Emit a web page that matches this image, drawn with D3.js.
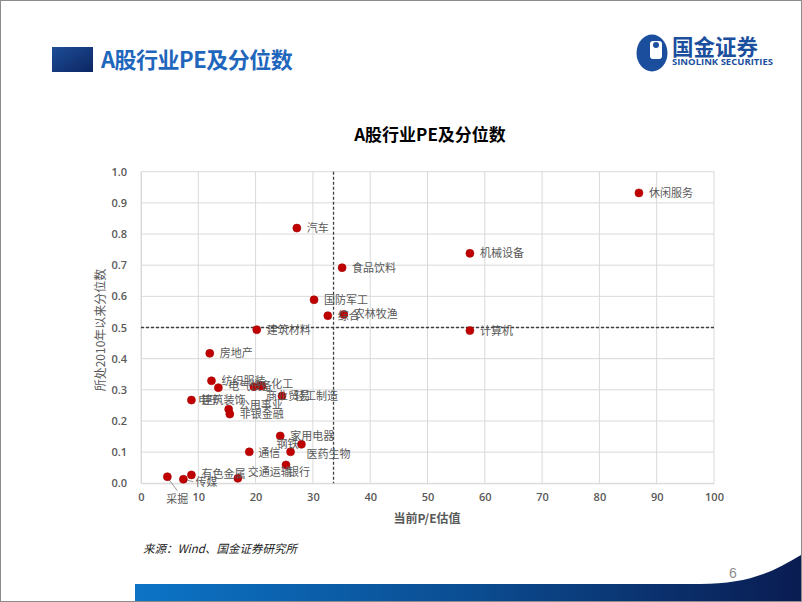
<!DOCTYPE html>
<html><head><meta charset="utf-8">
<script src="https://cdn.jsdelivr.net/npm/d3@7"></script>
<style>
html,body{margin:0;padding:0;background:#fff;}
svg{display:block;}
</style></head>
<body>
<svg id="c" width="802" height="602"></svg>
<script>
// ---- data ----
const industries = ["休闲服务","机械设备","计算机","汽车","食品饮料","国防军工","综合","农林牧渔","建筑材料","房地产","纺织服装","电气设备","电子","化工","商业贸易","轻工制造","建筑装饰","公用事业","非银金融","家用电器","钢铁","通信","医药生物","银行","交通运输","有色金属","传媒","采掘"];
const peValues    = [86.9, 57.4, 57.4, 27.2, 35.1, 30.2, 32.6, 35.4, 20.2, 12.0, 12.3, 13.5, 19.7, 20.8, 21.1, 24.6, 8.8, 15.3, 15.5, 24.3, 28.0, 18.9, 26.1, 25.3, 16.9, 8.8, 7.4, 4.6];
const percentiles = [0.932, 0.738, 0.490, 0.819, 0.692, 0.589, 0.538, 0.542, 0.493, 0.417, 0.329, 0.307, 0.310, 0.315, 0.312, 0.280, 0.267, 0.238, 0.222, 0.152, 0.125, 0.101, 0.101, 0.059, 0.016, 0.027, 0.013, 0.021];
const xTicks = [0,10,20,30,40,50,60,70,80,90,100];
const yTicks = [0,0.1,0.2,0.3,0.4,0.5,0.6,0.7,0.8,0.9,1.0];
const refPE = 33.6;
const refPct = 0.5;

// label placement tweaks (layout only)
const labelPos = {
  "电气设备":[10,-2], "化工":[11,-1], "商业贸易":[4,10], "轻工制造":[12,0],
  "电子":[-56,13], "公用事业":[10,-4], "非银金融":[10,0], "钢铁":[-3,0,"end"],
  "通信":[9,1], "医药生物":[16,2], "银行":[2,7], "交通运输":[10,-6], "有色金属":[10,-1],
  "传媒":[12,3], "采掘":[10,22,"middle"]
};

const svg = d3.select("#c");
const CJK = "'Noto Sans CJK SC','Noto Sans',sans-serif";

// frame
svg.append("rect").attr("x",0.5).attr("y",0.5).attr("width",801).attr("height",601)
  .attr("fill","#fff").attr("stroke","#8c8c8c");

const defs = svg.append("defs");
const g1 = defs.append("linearGradient").attr("id","sq").attr("x1","0").attr("x2","1").attr("y1","0").attr("y2","1");
g1.append("stop").attr("offset","0").attr("stop-color","#1d4d98");
g1.append("stop").attr("offset","1").attr("stop-color","#0c2662");
const g2 = defs.append("linearGradient").attr("id","bar").attr("x1","0").attr("x2","1");
g2.append("stop").attr("offset","0").attr("stop-color","#0c74c6");
g2.append("stop").attr("offset","0.5").attr("stop-color","#0b4d92");
g2.append("stop").attr("offset","1").attr("stop-color","#0a1c52");

// header
svg.append("rect").attr("x",52).attr("y",47).attr("width",41).attr("height",25).attr("fill","url(#sq)");
svg.append("text").attr("x",101).attr("y",68).attr("font-family",CJK).attr("font-weight","bold")
  .attr("font-size",22).attr("fill","#1f66bd").attr("letter-spacing","-0.5").text("A股行业PE及分位数");

// logo
const logo = svg.append("g");
logo.append("ellipse").attr("cx",652).attr("cy",53).attr("rx",15.5).attr("ry",18.5).attr("fill","#1b4f9e");
logo.append("rect").attr("x",650).attr("y",41).attr("width",12).attr("height",18).attr("rx",3).attr("fill","#fff");
logo.append("circle").attr("cx",656).attr("cy",45).attr("r",3).attr("fill","#1b4f9e");
logo.append("text").attr("x",672).attr("y",55).attr("font-family",CJK).attr("font-weight","bold")
  .attr("font-size",21.5).attr("fill","#1b4f9e").text("国金证券");
logo.append("text").attr("x",672).attr("y",65).attr("textLength",101).attr("lengthAdjust","spacingAndGlyphs")
  .attr("font-family","'Open Sans',sans-serif").attr("font-weight","bold")
  .attr("font-size",9).attr("fill","#1b4f9e").text("SINOLINK SECURITIES");

// chart title
svg.append("text").attr("x",430).attr("y",141).attr("text-anchor","middle").attr("font-family",CJK)
  .attr("font-weight","bold").attr("font-size",17).attr("fill","#000").text("A股行业PE及分位数");

// scales
const x = d3.scaleLinear().domain([0,100]).range([141,714]);
const y = d3.scaleLinear().domain([0,1]).range([483.3,171.7]);

// grid
const grid = svg.append("g");
grid.selectAll(".vx").data(xTicks).join("line")
  .attr("x1",d=>x(d)).attr("x2",d=>x(d)).attr("y1",y(0)).attr("y2",y(1))
  .attr("stroke","#d9d9d9").attr("stroke-width",1);
grid.selectAll(".hy").data(yTicks).join("line")
  .attr("x1",x(0)).attr("x2",x(100)).attr("y1",d=>y(d)).attr("y2",d=>y(d))
  .attr("stroke","#d9d9d9").attr("stroke-width",1);

// axes
const tickFont = "'Open Sans',sans-serif";
const xAxis = svg.append("g").attr("transform",`translate(0,${y(0)})`)
  .call(d3.axisBottom(x).tickValues(xTicks).tickSize(0).tickPadding(10).tickFormat(d3.format("d")));
const yAxis = svg.append("g").attr("transform",`translate(${x(0)},0)`)
  .call(d3.axisLeft(y).tickValues(yTicks).tickSize(0).tickPadding(14).tickFormat(d3.format(".1f")));
[xAxis,yAxis].forEach(a=>{
  a.select(".domain").attr("stroke","#d9d9d9");
  a.selectAll("text").attr("font-family",tickFont).attr("font-size",11).attr("font-weight",600).attr("fill","#595959");
});

// axis titles
svg.append("text").attr("x",427).attr("y",523).attr("text-anchor","middle").attr("font-family",CJK)
  .attr("font-weight","bold").attr("font-size",12).attr("fill","#595959").text("当前P/E估值");
svg.append("text").attr("transform","translate(105,330) rotate(-90)").attr("text-anchor","middle")
  .attr("font-family",CJK).attr("font-size",12).attr("fill","#595959").text("所处2010年以来分位数");

// reference lines
svg.append("line").attr("x1",x(0)).attr("x2",x(100)).attr("y1",y(refPct)).attr("y2",y(refPct))
  .attr("stroke","#404040").attr("stroke-width",1.3).attr("stroke-dasharray","3,2");
svg.append("line").attr("x1",x(refPE)).attr("x2",x(refPE)).attr("y1",y(1)).attr("y2",y(0))
  .attr("stroke","#404040").attr("stroke-width",1.3).attr("stroke-dasharray","3,2");

const pts = industries.map((n,i)=>({name:n, pe:peValues[i], pct:percentiles[i]}));

// leader lines
const leaders = svg.append("g");
pts.forEach(p=>{
  const px=x(p.pe), py=y(p.pct);
  if(p.name==="传媒"){
    leaders.append("line").attr("x1",px+4).attr("y1",py+1).attr("x2",px+10).attr("y2",py+2.5).attr("stroke","#7f7f7f").attr("stroke-width",0.8);
  }
  if(p.name==="采掘"){
    leaders.append("line").attr("x1",px+1).attr("y1",py+2).attr("x2",px+10).attr("y2",py+14).attr("stroke","#7f7f7f").attr("stroke-width",0.8);
  }
});

// points
svg.append("g").selectAll("circle").data(pts).join("circle")
  .attr("cx",d=>x(d.pe)).attr("cy",d=>y(d.pct)).attr("r",4)
  .attr("fill","#c00000").attr("stroke","#a50000").attr("stroke-width",0.6);

// labels
svg.append("g").selectAll("text").data(pts).join("text")
  .attr("x",d=>x(d.pe)+((labelPos[d.name]||[10,0])[0]))
  .attr("y",d=>y(d.pct)+((labelPos[d.name]||[10,0])[1]))
  .attr("dy","0.36em")
  .attr("text-anchor",d=>(labelPos[d.name]||[])[2]||"start")
  .attr("font-family",CJK).attr("font-size",11).attr("fill","#595959")
  .text(d=>d.name);

// footer
svg.append("text").attr("x",143).attr("y",553).attr("font-family","'Noto Sans CJK SC',sans-serif")
  .attr("font-style","italic").attr("font-size",11.5).attr("fill","#222")
  .text("来源：Wind、国金证券研究所");
svg.append("text").attr("x",733).attr("y",578).attr("text-anchor","middle").attr("font-family","'Liberation Sans',sans-serif")
  .attr("font-size",14).attr("fill","#8c8c8c").text("6");
svg.append("path").attr("d","M135,584 L700,584 C745,584 770,574 801,555 L801,601 L135,601 Z").attr("fill","url(#bar)");
</script>
</body></html>
